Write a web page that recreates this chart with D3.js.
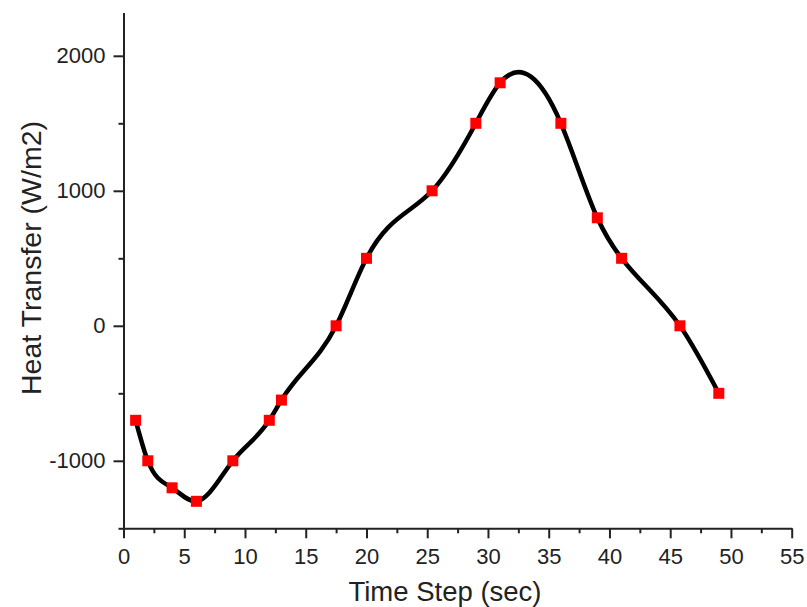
<!DOCTYPE html>
<html>
<head>
<meta charset="utf-8">
<script src="https://cdn.jsdelivr.net/npm/d3@7"></script>
<style>
  body { margin: 0; background: #fff; }
  svg { display: block; font-family: "Liberation Sans", Arial, sans-serif; }
  .axis path, .axis line { stroke: #222; stroke-width: 2; }
  .axis text { fill: #222; font-size: 22px; }
</style>
</head>
<body>
<svg width="807" height="607"></svg>
<script>
var timeStep = [1, 2, 4, 6, 9, 12, 13, 17.5, 20, 25.4, 29, 31, 36, 39, 41, 45.8, 49];
var heatTransfer = [-700, -1000, -1200, -1300, -1000, -700, -550, 0, 500, 1000, 1500, 1800, 1500, 800, 500, 0, -500];

var xMajor = [0, 5, 10, 15, 20, 25, 30, 35, 40, 45, 50, 55];
var xMinor = [2.5, 7.5, 12.5, 17.5, 22.5, 27.5, 32.5, 37.5, 42.5, 47.5, 52.5];
var yMajor = [-1000, 0, 1000, 2000];
var yMinor = [-1500, -500, 500, 1500];

var svg = d3.select("svg");

var xScale = d3.scaleLinear().domain([0, 55]).range([123.5, 791.7]),
  yScale = d3.scaleLinear().domain([-1500, 2320]).range([528.3, 12.6]);

var data = timeStep.map(function (d, i) {
  return { t: d, q: heatTransfer[i] };
});

// natural cubic spline of y over x, drawn as bezier pieces
function curveSplineX(context) {
  var xs, ys;
  return {
    areaStart: function () {},
    areaEnd: function () {},
    lineStart: function () { xs = []; ys = []; },
    point: function (x, y) { xs.push(+x); ys.push(+y); },
    lineEnd: function () {
      var n = xs.length;
      if (!n) return;
      context.moveTo(xs[0], ys[0]);
      if (n < 3) { if (n == 2) context.lineTo(xs[1], ys[1]); return; }
      var h = [], i;
      for (i = 0; i < n - 1; i++) h.push(xs[i + 1] - xs[i]);
      // second derivatives, M0 = Mn = 0
      var a = [], b = [], c = [], r = [];
      for (i = 1; i < n - 1; i++) {
        a.push(h[i - 1]);
        b.push(2 * (h[i - 1] + h[i]));
        c.push(h[i]);
        r.push(6 * ((ys[i + 1] - ys[i]) / h[i] - (ys[i] - ys[i - 1]) / h[i - 1]));
      }
      var m = n - 2;
      for (i = 1; i < m; i++) {
        var w = a[i] / b[i - 1];
        b[i] -= w * c[i - 1];
        r[i] -= w * r[i - 1];
      }
      var M = new Array(n).fill(0);
      M[m] = r[m - 1] / b[m - 1];
      for (i = m - 2; i >= 0; i--) M[i + 1] = (r[i] - c[i] * M[i + 2]) / b[i];
      var slope = [];
      for (i = 0; i < n - 1; i++) {
        slope.push((ys[i + 1] - ys[i]) / h[i] - h[i] * (2 * M[i] + M[i + 1]) / 6);
      }
      slope.push((ys[n - 1] - ys[n - 2]) / h[n - 2] + h[n - 2] * (M[n - 2] + 2 * M[n - 1]) / 6);
      for (i = 0; i < n - 1; i++) {
        var d = h[i] / 3;
        context.bezierCurveTo(
          xs[i] + d, ys[i] + slope[i] * d,
          xs[i + 1] - d, ys[i + 1] - slope[i + 1] * d,
          xs[i + 1], ys[i + 1]);
      }
    }
  };
}

function fmt(d) { return String(d); }

// minor ticks first, no labels
svg.append("g")
  .attr("class", "axis")
  .attr("transform", "translate(0," + yScale(-1500) + ")")
  .call(d3.axisBottom(xScale).tickValues(xMinor).tickSize(5).tickFormat(""))
  .select(".domain").remove();

svg.append("g")
  .attr("class", "axis")
  .attr("transform", "translate(" + xScale(0) + ",0)")
  .call(d3.axisLeft(yScale).tickValues(yMinor).tickSize(5).tickFormat(""))
  .select(".domain").remove();

// major ticks + labels
svg.append("g")
  .attr("class", "axis")
  .attr("transform", "translate(0," + yScale(-1500) + ")")
  .call(d3.axisBottom(xScale).tickValues(xMajor).tickSize(10).tickSizeOuter(0).tickPadding(10).tickFormat(fmt));

svg.append("g")
  .attr("class", "axis")
  .attr("transform", "translate(" + xScale(0) + ",0)")
  .call(d3.axisLeft(yScale).tickValues(yMajor).tickSize(10).tickSizeOuter(0).tickPadding(8).tickFormat(fmt));

svg.append("text")
  .attr("x", 445)
  .attr("y", 601)
  .attr("text-anchor", "middle")
  .attr("font-size", "27.5px")
  .attr("fill", "#222")
  .text("Time Step (sec)");

svg.append("text")
  .attr("transform", "translate(41,258) rotate(-90)")
  .attr("text-anchor", "middle")
  .attr("font-size", "28.5px")
  .attr("fill", "#222")
  .text("Heat Transfer (W/m2)");

var line = d3.line()
  .curve(curveSplineX)
  .x(function (d) { return xScale(d.t); })
  .y(function (d) { return yScale(d.q); });

svg.append("path")
  .datum(data)
  .attr("fill", "none")
  .attr("stroke", "#000")
  .attr("stroke-width", 4.5)
  .attr("d", line);

var size = 11;
svg.selectAll(".marker")
  .data(data)
  .enter()
  .append("rect")
  .attr("class", "marker")
  .attr("x", function (d) { return xScale(d.t) - size / 2; })
  .attr("y", function (d) { return yScale(d.q) - size / 2; })
  .attr("width", size)
  .attr("height", size)
  .attr("fill", "#ff0000");
</script>
</body>
</html>
